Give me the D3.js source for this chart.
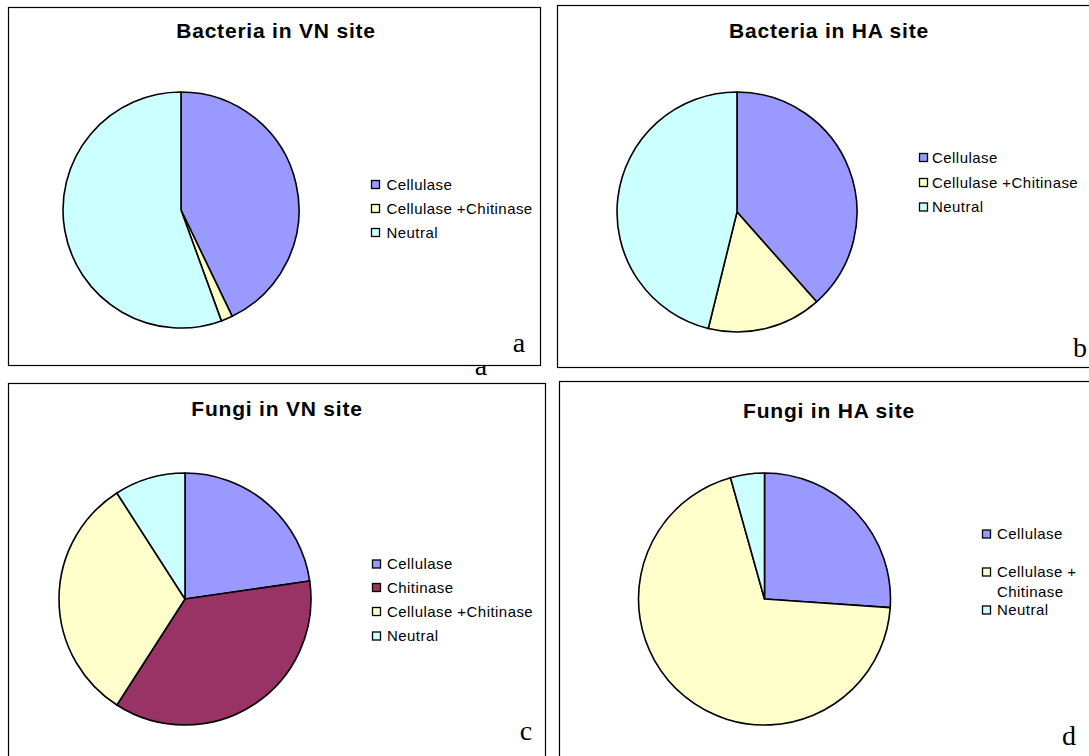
<!DOCTYPE html>
<html>
<head>
<meta charset="utf-8">
<script src="https://cdn.jsdelivr.net/npm/d3@7"></script>
<style>
  html, body { margin: 0; padding: 0; background: #fff; }
  svg { display: block; }
</style>
</head>
<body>
<svg id="chart" width="1089" height="756"></svg>
<script>
// Isolate counts by enzyme activity
const bacteriaCategories = ["Cellulase", "Cellulase +Chitinase", "Neutral"];
const bacteriaVN = [27, 1, 35];
const bacteriaHA = [5, 2, 6];

const fungiVNCategories = ["Cellulase", "Chitinase", "Cellulase +Chitinase", "Neutral"];
const fungiVN = [5, 8, 7, 2];

const fungiHACategories = ["Cellulase", "Cellulase +|Chitinase", "Neutral"];
const fungiHA = [6, 16, 1];

const titles = ["Bacteria in VN site", "Bacteria in HA site", "Fungi in VN site", "Fungi in HA site"];
const panelLetters = ["a", "b", "c", "d"];

const colorByCategory = {
  "Cellulase": "#9999ff",
  "Chitinase": "#993366",
  "Cellulase +Chitinase": "#ffffcc",
  "Cellulase +|Chitinase": "#ffffcc",
  "Neutral": "#ccffff"
};

const svg = d3.select("#chart");

// stray caption letter partly hidden behind panel a
svg.append("text")
  .attr("x", 481).attr("y", 375)
  .attr("text-anchor", "middle")
  .attr("font-family", "Liberation Serif, Times New Roman, serif")
  .attr("font-size", 28)
  .text("a");

const panels = [
  { box: [8, 7, 532, 358], title: [276, 38], cx: 181, cy: 210, r: 118,
    cats: bacteriaCategories, vals: bacteriaVN,
    legend: { x: 371.5, tx: 15, ys: [184.5, 208.5, 232.5] }, letter: [519, 352] },
  { box: [557, 5, 560, 362], title: [829, 38], cx: 737, cy: 212, r: 120,
    cats: bacteriaCategories, vals: bacteriaHA,
    legend: { x: 919.5, tx: 12.5, ys: [157.5, 182.5, 207] }, letter: [1080, 357] },
  { box: [8, 383, 537, 400], title: [277, 416], cx: 185, cy: 599, r: 126,
    cats: fungiVNCategories, vals: fungiVN,
    legend: { x: 372.5, tx: 14.5, ys: [564, 587.5, 611.5, 636] }, letter: [526, 740] },
  { box: [559, 381, 560, 400], title: [829, 418], cx: 764.5, cy: 599, r: 126,
    cats: fungiHACategories, vals: fungiHA,
    legend: { x: 982.5, tx: 14.5, ys: [534, 572, 610] }, letter: [1069, 745] }
];

const pie = d3.pie().sort(null).value(d => d.value);

panels.forEach((p, i) => {
  const g = svg.append("g");

  // panel frame
  g.append("rect")
    .attr("x", p.box[0] + 0.5).attr("y", p.box[1] + 0.5)
    .attr("width", p.box[2]).attr("height", p.box[3])
    .attr("fill", "#fff")
    .attr("stroke", "#000").attr("stroke-width", 1.2);

  // title
  g.append("text")
    .attr("x", p.title[0]).attr("y", p.title[1])
    .attr("text-anchor", "middle")
    .attr("font-family", "Liberation Sans, Arial, sans-serif")
    .attr("font-weight", "bold")
    .attr("font-size", 21)
    .attr("letter-spacing", 0.8)
    .text(titles[i]);

  // pie
  const data = p.cats.map((c, k) => ({ category: c, value: p.vals[k] }));
  const arc = d3.arc().innerRadius(0).outerRadius(p.r);
  g.append("g")
    .attr("transform", `translate(${p.cx},${p.cy})`)
    .selectAll("path")
    .data(pie(data))
    .join("path")
    .attr("d", arc)
    .attr("fill", d => colorByCategory[d.data.category])
    .attr("stroke", "#000")
    .attr("stroke-width", 1.6)
    .attr("stroke-linejoin", "round");

  // legend
  const lg = g.append("g");
  p.cats.forEach((c, k) => {
    const y = p.legend.ys[k];
    lg.append("rect")
      .attr("x", p.legend.x).attr("y", y - 4)
      .attr("width", 8).attr("height", 8)
      .attr("fill", colorByCategory[c])
      .attr("stroke", "#000").attr("stroke-width", 1.3);
    const lines = c.split("|");
    const t = lg.append("text")
      .attr("font-family", "Liberation Sans, Arial, sans-serif")
      .attr("font-size", 15)
      .attr("letter-spacing", 0.45)
      .attr("fill", "#000");
    lines.forEach((ln, j) => {
      t.append("tspan")
        .attr("x", p.legend.x + p.legend.tx)
        .attr("y", y + 5.3 + j * 19.5)
        .text(ln);
    });
  });

  // panel letter
  g.append("text")
    .attr("x", p.letter[0]).attr("y", p.letter[1])
    .attr("text-anchor", "middle")
    .attr("font-family", "Liberation Serif, Times New Roman, serif")
    .attr("font-size", 28)
    .text(panelLetters[i]);
});
</script>
</body>
</html>
